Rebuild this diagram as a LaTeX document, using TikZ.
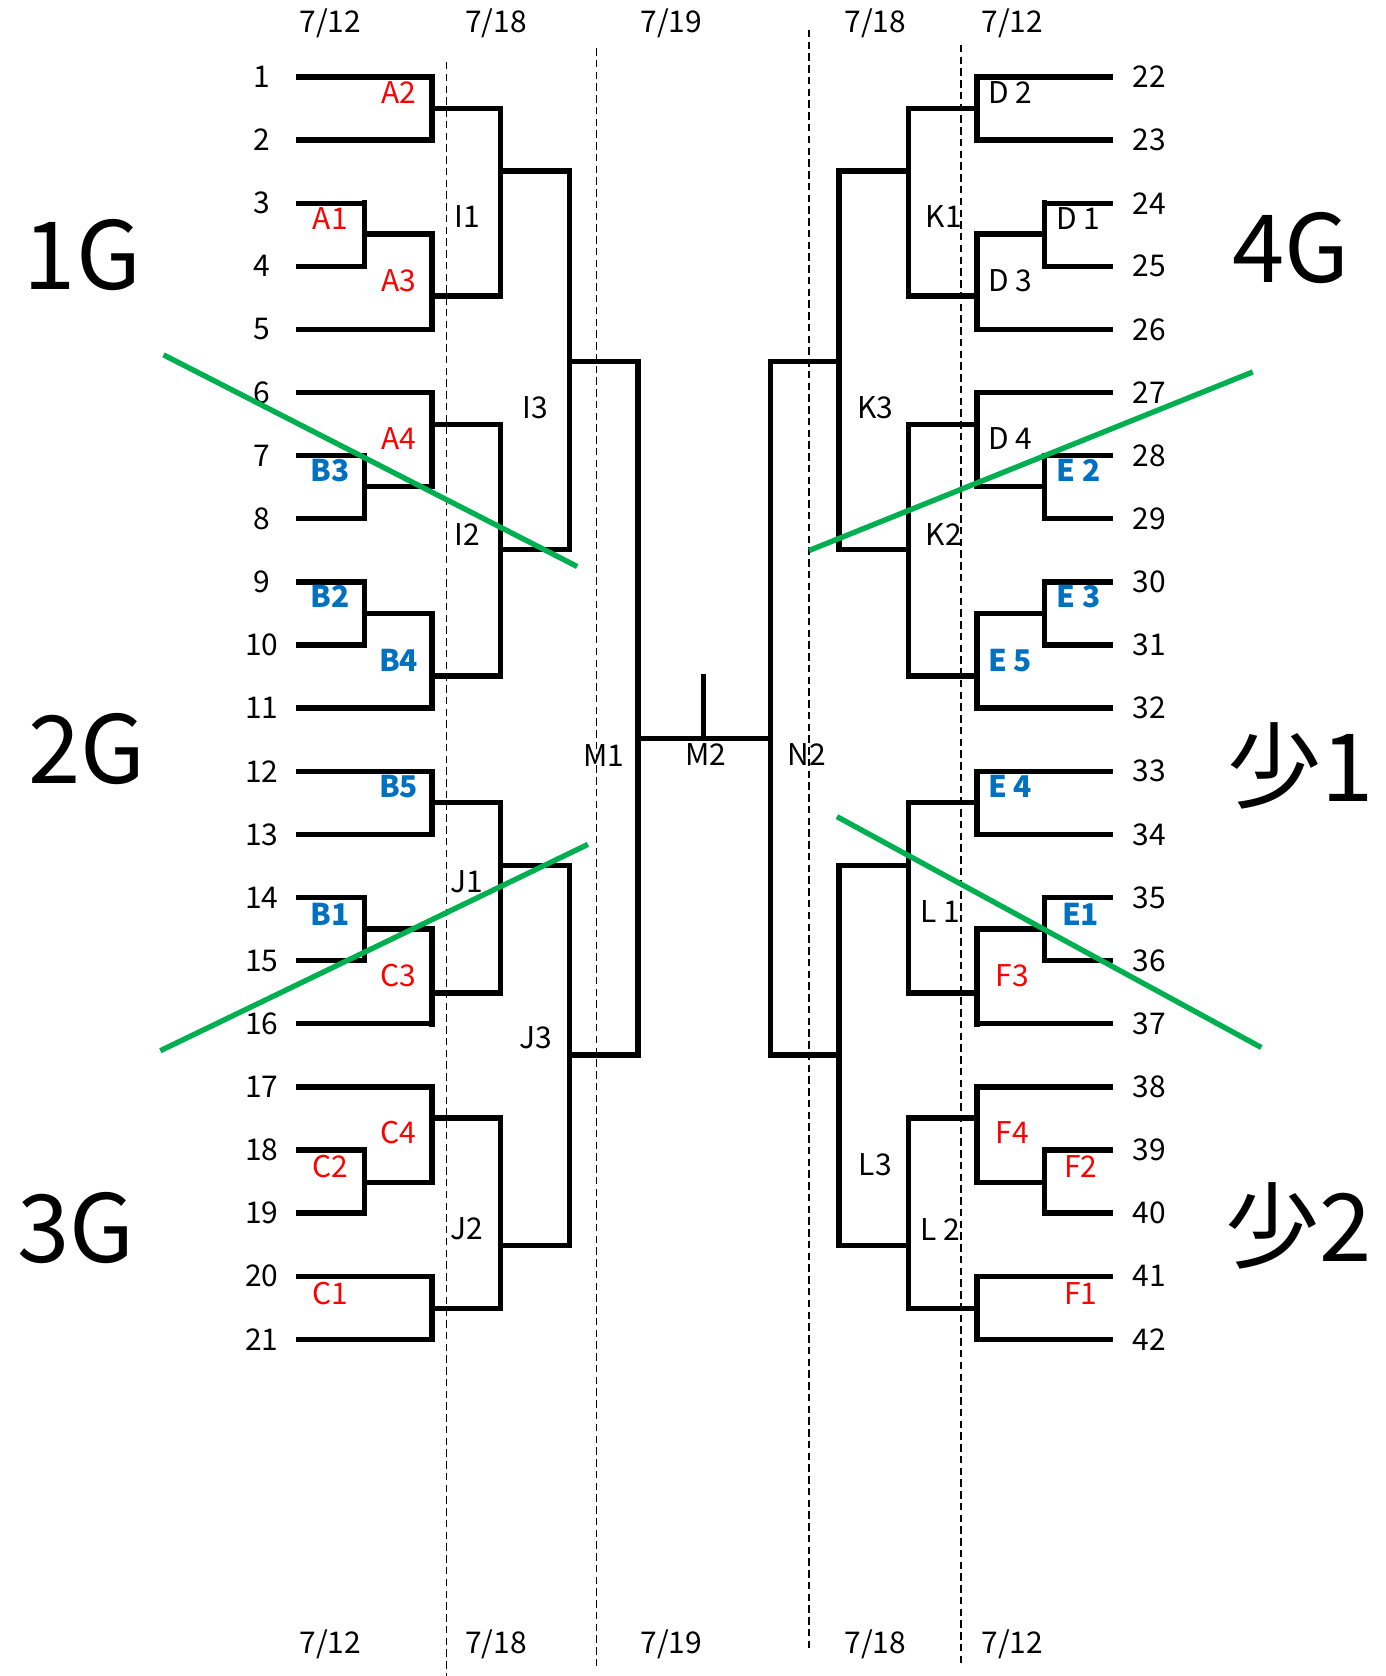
\documentclass[tikz,border=0pt]{standalone}
\usepackage{fontspec}
\setmainfont{Noto Sans CJK JP}
\definecolor{cutGreen}{HTML}{00B050}
\definecolor{seedRed}{HTML}{FF0000}
\definecolor{seedBlue}{HTML}{0070C0}
\tikzset{
  bracket chart/.style={
    x=1pt, y=-1pt,
    every node/.style={font=\fontsize{28}{32}\selectfont,
      text=black, inner sep=0pt, outer sep=0pt}
  },
  bracket line/.style={draw=black, line width=5pt, line cap=rect},
  day guide/.style={draw=black, line width=1.3pt, dash pattern=on 7pt off 4pt},
  cut line/.style={draw=cutGreen, line width=5pt},
  red game/.style={text=seedRed},
  blue game/.style={text=seedBlue, font=\fontsize{28}{32}\selectfont\bfseries},
  group label/.style={font=\fontsize{88}{92}\selectfont}
}
\newcommand{\RowY}[1]{{72+(#1-1)*59.05}}

\begin{document}
\begin{tikzpicture}[bracket chart]
  \useasboundingbox (0,0) rectangle (1296,1568);
  % day guides
  \draw[day guide] (418,58) -- (418,1568);
  \draw[day guide] (558,45) -- (558,1560);
  \draw[day guide] (757,28) -- (757,1542);
  \draw[day guide] (899,42) -- (899,1556);
  % both halves of the bracket, right half mirrored
  \foreach \side in {0,1} {
    \begin{scope}[shift={(1318*\side,0)}, xscale=1-2*\side]
      \foreach \i/\xe in {1/404,2/404,3/341,4/341,5/404,6/404,7/341,8/341,9/341,10/341,
                          11/404,12/404,13/404,14/341,15/341,16/404,17/404,18/341,19/341,20/404,21/404}
        \draw[bracket line] (279,\RowY{\i}) -- (\xe,\RowY{\i});
      \foreach \xv/\ya/\yb/\yo/\xo in {404/72/131/101.5/468, 341/190/249/219/404,
          404/219/308/277/468, 468/101.5/277/160/533, 341/426/485/455/404,
          404/367/455/397/468, 341/544/603/574/404, 404/574/662.5/632.5/468,
          468/397/632.5/514/533, 533/160/514/338/597, 404/721.5/780.5/751/468,
          341/839.5/898.5/869/404, 404/869/958/929/468, 468/751/929/810/533,
          341/1076/1135/1106/404, 404/1017/1106/1046/468, 404/1194/1253/1224/468,
          468/1046/1224/1165/533, 533/810/1165/987/597, 597/338/987/691/659} {
        \draw[bracket line] (\xv,\ya) -- (\xv,\yb);
        \draw[bracket line] (\xv,\yo) -- (\xo,\yo);
      }
    \end{scope}
  }
  \draw[bracket line] (658,633) -- (658,691);
  % entry numbers
  \foreach \i in {1,...,21}
    \node (n\i) at (245,\RowY{\i}) {\i};
  \foreach \i in {22,...,42}
    \node (n\i) at (1075,{72+(\i-22)*59.05}) {\i};
  % dates
  \foreach \x/\d [count=\k] in {309/7\slash12,464/7\slash18,628/7\slash19,819/7\slash18,947/7\slash12} {
    \node (top\k) at (\x,22) {\d};
    \node (bot\k) at (\x,1538) {\d};
  }
  % game labels, left
  \node[red game] (gA2) at (373,87) {A2};
  \node[red game] (gA1) at (309,204) {A1};
  \node[red game] (gA3) at (373,263) {A3};
  \node[red game] (gA4) at (373,410) {A4};
  \node[blue game] (gB3) at (309,440) {B3};
  \node[blue game] (gB2) at (309,558) {B2};
  \node[blue game] (gB4) at (373,618) {B4};
  \node[blue game] (gB5) at (373,736) {B5};
  \node[blue game] (gB1) at (309,855) {B1};
  \node[red game] (gC3) at (373,913) {C3};
  \node[red game] (gC4) at (373,1060) {C4};
  \node[red game] (gC2) at (309,1091) {C2};
  \node[red game] (gC1) at (309,1210) {C1};
  \node (gI1) at (437,203) {I1};
  \node (gI3) at (501,381) {I3};
  \node (gI2) at (437,500) {I2};
  \node (gJ1) at (437,825) {J1};
  \node (gJ3) at (501,971) {J3};
  \node (gJ2) at (437,1150) {J2};
  \node (gM1) at (565,707) {M1};
  \node (gM2) at (660,706) {M2};
  \node (gN2) at (755,706) {N2};
  % game labels, right
  \node (gD2) at (945,87) {D 2};
  \node (gK1) at (883,203) {K1};
  \node (gD1) at (1009,204) {D 1};
  \node (gD3) at (945,263) {D 3};
  \node (gK3) at (819,381) {K3};
  \node (gD4) at (945,410) {D 4};
  \node (gK2) at (883,500) {K2};
  \node (gL1) at (880,853) {L 1};
  \node (gL3) at (819,1090) {L3};
  \node (gL2) at (880,1150) {L 2};
  \node[blue game] (gE2) at (1009,440) {E 2};
  \node[blue game] (gE3) at (1009,558) {E 3};
  \node[blue game] (gE5) at (945,618) {E 5};
  \node[blue game] (gE4) at (945,736) {E 4};
  \node[blue game] (gE1) at (1011,855) {E1};
  \node[red game] (gF3) at (947,913) {F3};
  \node[red game] (gF4) at (947,1060) {F4};
  \node[red game] (gF2) at (1011,1091) {F2};
  \node[red game] (gF1) at (1011,1210) {F1};
  % groups
  \node[group label] (g1) at (77,239) {1G};
  \node[group label] (g2) at (81,701) {2G};
  \node[group label] (g3) at (71,1149) {3G};
  \node[group label] (g4) at (1208,232) {4G};
  \node[group label] (s1) at (1217,717) {少1};
  \node[group label] (s2) at (1215,1147) {少2};
  % cuts
  \draw[cut line] (153,332) -- (540,530);
  \draw[cut line] (150,983) -- (550,790);
  \draw[cut line] (757,515) -- (1172,348);
  \draw[cut line] (783,764) -- (1180,980);
\end{tikzpicture}
\end{document}
